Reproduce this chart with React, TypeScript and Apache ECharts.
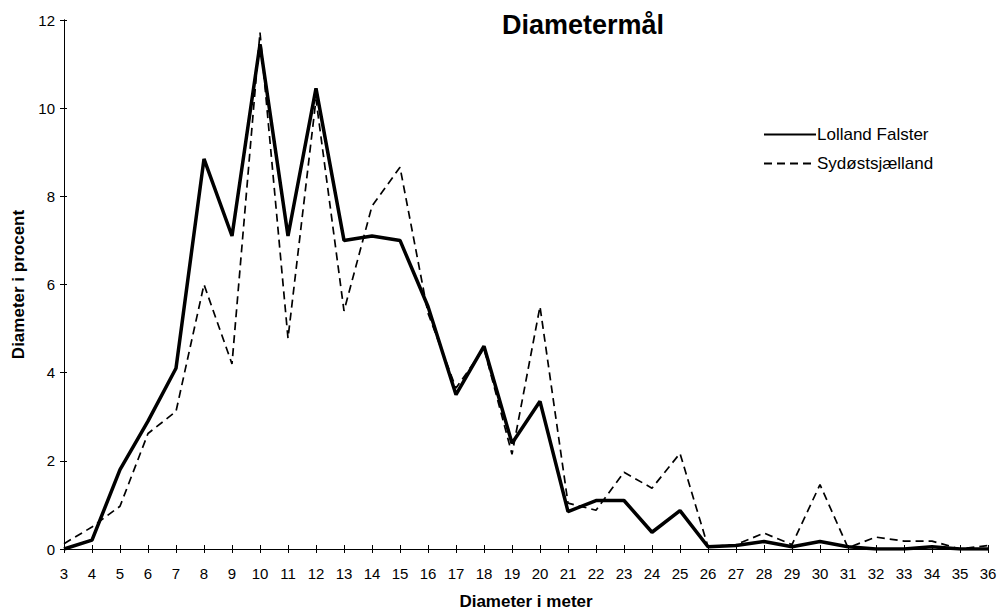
import React, { useEffect, useRef } from "react";
import * as echarts from "echarts";

const categories = ["3","4","5","6","7","8","9","10","11","12","13","14","15","16","17","18","19","20","21","22","23","24","25","26","27","28","29","30","31","32","33","34","35","36"];
const lollandFalster = [0, 0.2, 1.8, 2.9, 4.1, 8.85, 7.1, 11.45, 7.1, 10.45, 7.0, 7.1, 7.0, 5.5, 3.5, 4.6, 2.4, 3.35, 0.85, 1.1, 1.1, 0.38, 0.87, 0.05, 0.08, 0.17, 0.05, 0.17, 0.05, 0, 0, 0.05, 0, 0];
const sydostsjaelland = [0.12, 0.5, 0.97, 2.62, 3.12, 6.0, 4.2, 11.72, 4.78, 10.2, 5.4, 7.78, 8.66, 5.35, 3.65, 4.55, 2.15, 5.5, 1.04, 0.88, 1.74, 1.38, 2.17, 0.05, 0.1, 0.36, 0.1, 1.46, 0.03, 0.27, 0.18, 0.18, 0, 0.08];
const seriesNames = ["Lolland Falster", "Sydøstsjælland"];
const titleText = "Diametermål";
const xTitle = "Diameter i meter";
const yTitle = "Diameter i procent";

const FONT = "'Liberation Sans', Arial, Helvetica, sans-serif";

export default function App() {
  const ref = useRef<HTMLDivElement>(null);
  useEffect(() => {
    if (!ref.current) return;
    const chart = echarts.init(ref.current, undefined, { renderer: "svg" });
    const axisLine = { show: true, lineStyle: { color: "#000", width: 1 } };
    chart.setOption({
      animation: false,
      backgroundColor: "#fff",
      textStyle: { fontFamily: FONT, color: "#000" },
      title: {
        text: titleText,
        left: 578,
        top: 6,
        textAlign: "center",
        textStyle: { fontFamily: FONT, fontSize: 27, fontWeight: "bold", color: "#000" },
      },
      legend: {
        orient: "vertical",
        left: 758,
        top: 121,
        itemWidth: 52,
        itemHeight: 14,
        itemGap: 12,
        data: seriesNames,
        itemStyle: { opacity: 0 },
        textStyle: { fontFamily: FONT, fontSize: 17, color: "#000", padding: [0, 0, 0, -4] },
      },
      grid: { left: 64, right: 18, top: 20, bottom: 63, outerBoundsMode: "none", containLabel: false },
      xAxis: [
        {
          type: "category",
          data: categories,
          boundaryGap: false,
          name: xTitle,
          nameLocation: "middle",
          nameGap: 44,
          nameTextStyle: { fontFamily: FONT, fontSize: 17, fontWeight: "bold", color: "#000" },
          axisLine,
          axisTick: { show: true, inside: false, length: 4, lineStyle: { color: "#000" } },
          axisLabel: { fontFamily: FONT, fontSize: 15, color: "#000", margin: 17 },
          splitLine: { show: false },
        },
        {
          type: "category",
          data: categories,
          boundaryGap: false,
          position: "bottom",
          axisLine,
          axisTick: { show: true, inside: true, length: 4, lineStyle: { color: "#000" } },
          axisLabel: { show: false },
          splitLine: { show: false },
        },
      ],
      yAxis: [
        {
          type: "value",
          min: 0,
          max: 12,
          interval: 2,
          name: yTitle,
          nameLocation: "middle",
          nameGap: 36,
          nameTextStyle: { fontFamily: FONT, fontSize: 17, fontWeight: "bold", color: "#000" },
          axisLine,
          axisTick: { show: true, inside: false, length: 4, lineStyle: { color: "#000" } },
          axisLabel: { fontFamily: FONT, fontSize: 15, color: "#000", margin: 9 },
          splitLine: { show: false },
        },
        {
          type: "value",
          min: 0,
          max: 12,
          interval: 2,
          position: "left",
          axisLine,
          axisTick: { show: true, inside: true, length: 3, lineStyle: { color: "#000" } },
          axisLabel: { show: false },
          splitLine: { show: false },
        },
      ],
      series: [
        {
          name: seriesNames[1],
          type: "line",
          data: sydostsjaelland,
          symbol: "none",
          lineStyle: { color: "#000", width: 1.7, type: [8, 5] },
          itemStyle: { color: "#000" },
          z: 2,
        },
        {
          name: seriesNames[0],
          type: "line",
          data: lollandFalster,
          symbol: "none",
          lineStyle: { color: "#000", width: 3.5, type: "solid" },
          itemStyle: { color: "#000" },
          z: 3,
        },
      ],
    });
    return () => chart.dispose();
  }, []);
  return (
    <div
      ref={ref}
      style={{ position: "fixed", left: 0, top: 0, width: 1006, height: 612, background: "#fff" }}
    />
  );
}
